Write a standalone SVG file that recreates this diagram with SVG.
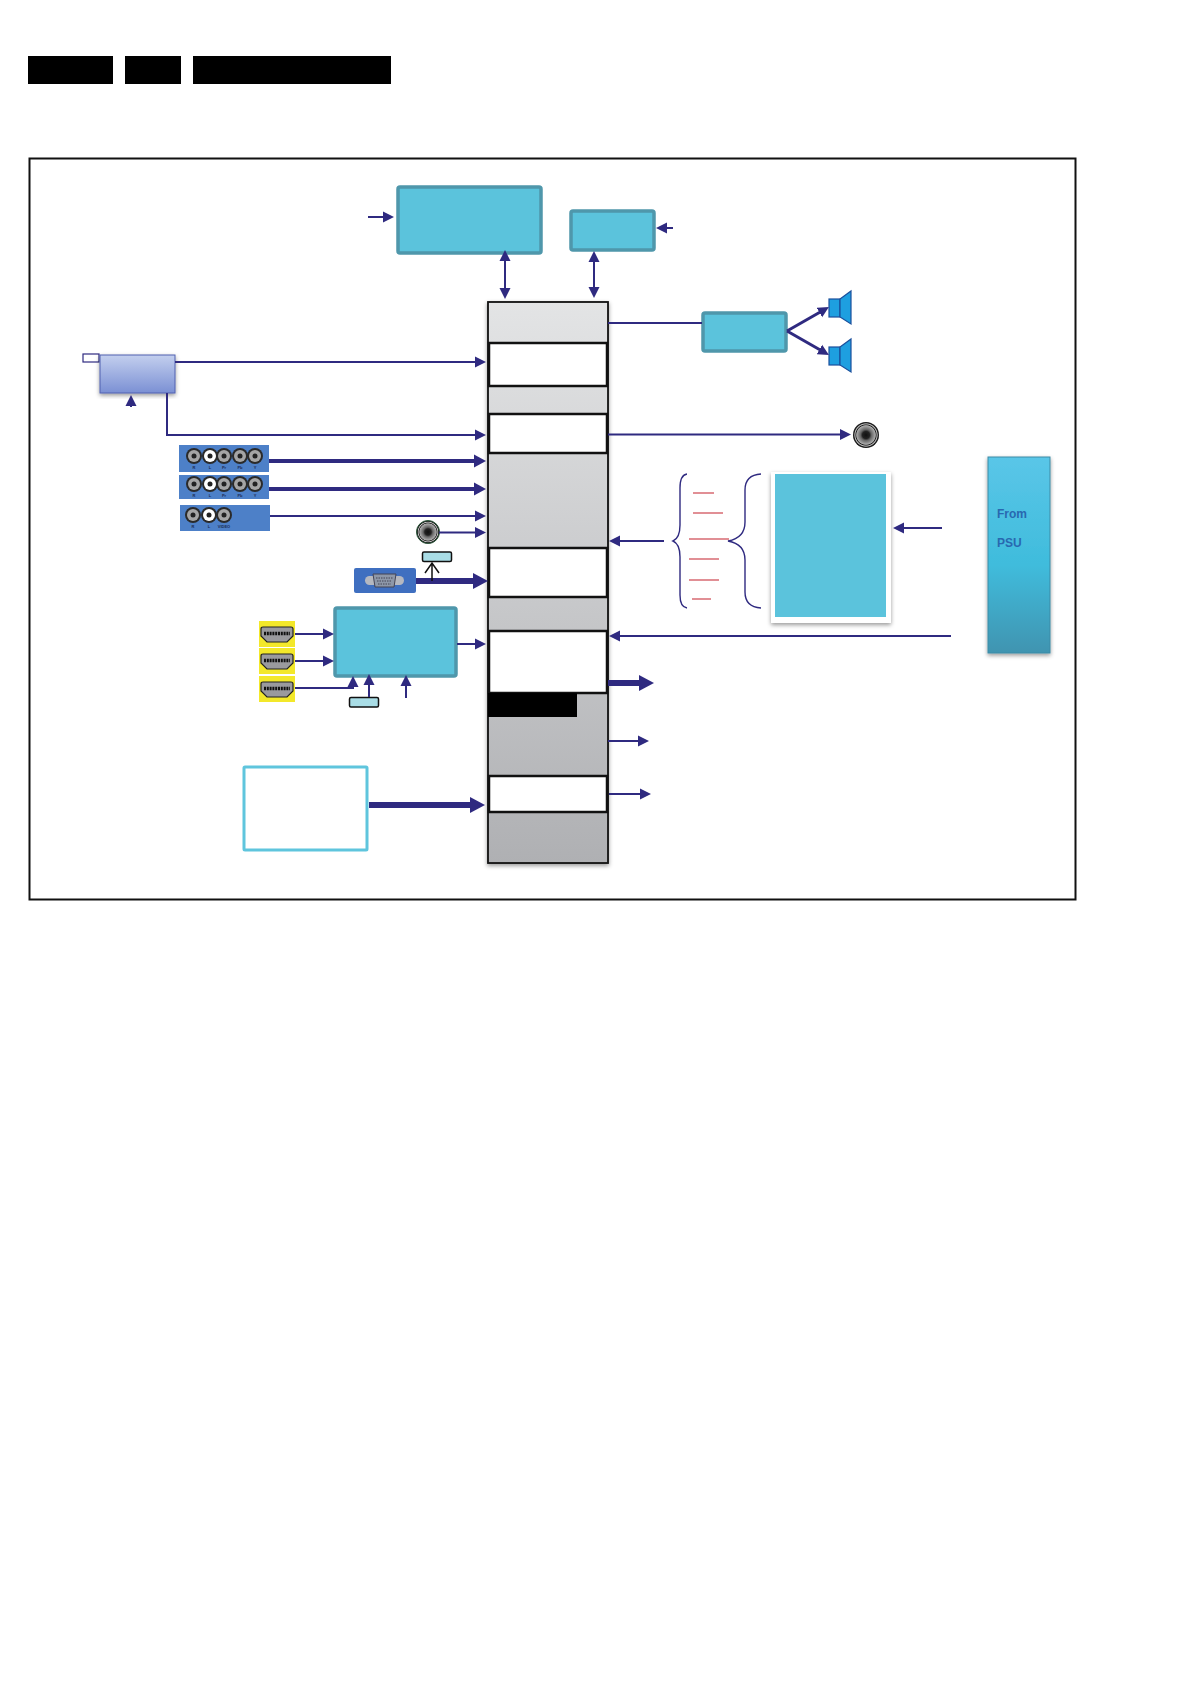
<svg xmlns="http://www.w3.org/2000/svg" width="1191" height="1684" viewBox="0 0 1191 1684">
<style>
.w{fill:none;stroke:#2f2a80;stroke-width:2}
.m{stroke-width:3}
.t{stroke-width:4}
.b{stroke-width:6}
.a{fill:#2f2a80;stroke:none}
.ic{fill:#5bc3dc;stroke:#4f97ab;stroke-width:3.5}
.wb{fill:#fff;stroke:#111;stroke-width:2.500}
.lb{fill:#a9dde6;stroke:#111;stroke-width:1.500}
.red{stroke:#c4202c;stroke-width:1.200;fill:none}
.br{fill:none;stroke:#2f2a80;stroke-width:1.400}
.rl{font:bold 4px "Liberation Sans",sans-serif;fill:#1c2c55;text-anchor:middle}
.psu{font:bold 12px "Liberation Sans",sans-serif;fill:#2868b0}
.sp{fill:#1e9fe0;stroke:#1a4f9c;stroke-width:1.200}
</style>
<defs>
<marker id="m" markerUnits="userSpaceOnUse" markerWidth="13" markerHeight="13" refX="3" refY="6.500" orient="auto-start-reverse"><path class="a" d="M0 1L11 6.500L0 12Z"/></marker>
<marker id="mt" markerUnits="userSpaceOnUse" markerWidth="14" markerHeight="15" refX="3" refY="7.500" orient="auto"><path class="a" d="M0 1L12 7.500L0 14Z"/></marker>
<marker id="mb" markerUnits="userSpaceOnUse" markerWidth="17" markerHeight="18" refX="3" refY="9" orient="auto"><path class="a" d="M0 1L15 9L0 17Z"/></marker>
<linearGradient id="col" x1="0" y1="0" x2="0" y2="1"><stop offset="0" stop-color="#e3e4e5"/><stop offset="1" stop-color="#afb0b3"/></linearGradient>
<linearGradient id="tun" x1="0" y1="0" x2="0" y2="1"><stop offset="0" stop-color="#c3cfee"/><stop offset="1" stop-color="#7b90d4"/></linearGradient>
<linearGradient id="psug" x1="0" y1="0" x2="0" y2="1"><stop offset="0" stop-color="#5ac6e8"/><stop offset="0.55" stop-color="#3fbcdc"/><stop offset="1" stop-color="#3f94b0"/></linearGradient>
<radialGradient id="jk"><stop offset="0" stop-color="#111"/><stop offset="0.28" stop-color="#222"/><stop offset="0.42" stop-color="#666"/><stop offset="0.72" stop-color="#aaa"/><stop offset="0.78" stop-color="#222"/><stop offset="0.86" stop-color="#ccc"/><stop offset="0.92" stop-color="#222"/><stop offset="1" stop-color="#111"/></radialGradient>
<filter id="sh" x="-10%" y="-10%" width="125%" height="125%"><feDropShadow dx="0" dy="2" stdDeviation="2" flood-color="#000" flood-opacity="0.4"/></filter>
<g id="rca"><circle r="8" fill="#2a2a2a"/><circle r="6" fill="#a5a5a5"/><circle r="2.500" fill="#222"/></g>
<g id="rcaw"><circle r="8" fill="#2a2a2a"/><circle r="6" fill="#fff"/><circle r="2.500" fill="#222"/></g>
<g id="hdmi"><rect x="-18" y="-13" width="36" height="26" fill="#f3e82a"/><path d="M-14-7H14Q16-7 16-5V2L10 8H-10L-16 2V-5Q-16-7-14-7Z" fill="#9a9a9e" stroke="#222" stroke-width="1.200"/><path d="M-13-.5H13" stroke="#111" stroke-width="3.500" stroke-dasharray="2 .8"/></g>
<g id="spk"><rect x="829" y="0" width="11" height="18" class="sp"/><path class="sp" d="M840 0L851-8V25L840 18Z"/></g>
</defs>

<g id="header"><rect x="28" y="56" width="85" height="28"/><rect x="125" y="56" width="56" height="28"/><rect x="193" y="56" width="198" height="28"/></g>
<rect id="frame" x="29.500" y="158.500" width="1046" height="741" fill="none" stroke="#111" stroke-width="2"/>

<g id="chip">
<rect x="488" y="302" width="120" height="561" fill="url(#col)" stroke="#111" stroke-width="1.800" filter="url(#sh)"/>
<rect class="wb" x="489" y="343" width="118" height="43"/>
<rect class="wb" x="489" y="414" width="118" height="39"/>
<rect class="wb" x="489" y="548" width="118" height="49"/>
<rect class="wb" x="489" y="631" width="118" height="62"/>
<rect x="488" y="693" width="89" height="24" fill="#000"/>
<rect class="wb" x="489" y="776" width="118" height="36"/>
</g>
<g id="mem1"><rect class="ic" x="398" y="187" width="143" height="66" rx="2"/></g>
<g id="mem2"><rect class="ic" x="571" y="211" width="83" height="39" rx="2"/></g>
<g id="amp"><rect class="ic" x="703" y="313" width="83" height="38" rx="2"/></g>
<g id="speakers"><use href="#spk" y="299"/><use href="#spk" y="347"/></g>
<g id="audio-jack"><circle cx="866" cy="435" r="13" fill="url(#jk)"/></g>
<g id="panel"><rect x="771" y="472" width="120" height="151" fill="#fff" filter="url(#sh)"/><rect x="775" y="474" width="111" height="143" fill="#5bc3dc"/></g>
<g id="psu"><rect x="988" y="457" width="62" height="196" fill="url(#psug)" stroke="#3c8ba6" filter="url(#sh)"/><text class="psu" x="997" y="518">From</text><text class="psu" x="997" y="547">PSU</text></g>
<g id="tuner"><rect x="83" y="354" width="16" height="8" fill="#fff" stroke="#2f2a80" stroke-width="1.200"/><rect x="100" y="355" width="75" height="38" fill="url(#tun)" stroke="#5060b0" filter="url(#sh)"/></g>
<g id="rca1"><rect x="179" y="445" width="90" height="27" fill="#4d80c8"/><use href="#rca" x="194" y="456"/><use href="#rcaw" x="210" y="456"/><use href="#rca" x="224" y="456"/><use href="#rca" x="240" y="456"/><use href="#rca" x="255" y="456"/><text class="rl" x="194" y="468.500">R</text><text class="rl" x="210" y="468.500">L</text><text class="rl" x="224" y="468.500">Pr</text><text class="rl" x="240" y="468.500">Pb</text><text class="rl" x="255" y="468.500">Y</text></g>
<g id="rca2"><rect x="179" y="475" width="90" height="24" fill="#4d80c8"/><use href="#rca" x="194" y="484"/><use href="#rcaw" x="210" y="484"/><use href="#rca" x="224" y="484"/><use href="#rca" x="240" y="484"/><use href="#rca" x="255" y="484"/><text class="rl" x="194" y="496.500">R</text><text class="rl" x="210" y="496.500">L</text><text class="rl" x="224" y="496.500">Pr</text><text class="rl" x="240" y="496.500">Pb</text><text class="rl" x="255" y="496.500">Y</text></g>
<g id="rca3"><rect x="180" y="505" width="90" height="26" fill="#4d80c8"/><use href="#rca" x="193" y="515"/><use href="#rcaw" x="209" y="515"/><use href="#rca" x="224" y="515"/><text class="rl" x="193" y="528">R</text><text class="rl" x="209" y="528">L</text><text class="rl" x="224" y="528">VIDEO</text></g>
<g id="jack2"><circle cx="428" cy="532" r="11.500" fill="url(#jk)" stroke="#2c5a3c"/></g>
<g id="lb1"><rect class="lb" x="422.500" y="552" width="29" height="9.500" rx="1.500"/></g>
<g id="vga"><rect x="354" y="568" width="62" height="25" rx="2" fill="#3f6fc0"/><rect x="365" y="576" width="39" height="9" rx="4.500" fill="#b5b8c0"/><path d="M373 574H396L394 587H375Z" fill="#8d97a8" stroke="#445"/><path d="M376 578H393M377 581H392M378 584H391" stroke="#445" stroke-width="1" stroke-dasharray="1.500 1"/></g>
<g id="hdmi-switch"><rect class="ic" x="335" y="608" width="121" height="68" rx="2"/></g>
<g id="hdmi1"><use href="#hdmi" x="277" y="634"/></g>
<g id="hdmi2"><use href="#hdmi" x="277" y="661"/></g>
<g id="hdmi3"><use href="#hdmi" x="277" y="689"/></g>
<g id="lb2"><rect class="lb" x="349.500" y="697.500" width="29" height="9.500" rx="1.500"/></g>
<g id="wifi"><rect x="244" y="767" width="123" height="83" rx="1" fill="#fff" stroke="#5fc5dd" stroke-width="3"/></g>
<g id="braces">
<path class="br" d="M687 474Q680 475 680 488V525Q680 538 673 541Q680 544 680 557V595Q680 607 687 608"/>
<path class="br" d="M761 474Q745 475 745 490V522Q745 538 728 541Q745 544 745 560V592Q745 607 761 608"/>
<path class="red" d="M693 493H714M693 513H723M689 539H729M689 559H719M689 580H719M692 599H711"/>
</g>
<g id="connectors">
<path class="w" d="M368 217H386" marker-end="url(#m)"/>
<path class="w" d="M673 228H664" marker-end="url(#m)"/>
<path class="w" d="M505 258V291" marker-start="url(#m)" marker-end="url(#m)"/>
<path class="w" d="M594 259V290" marker-start="url(#m)" marker-end="url(#m)"/>
<path class="w" d="M608 323H702"/>
<path class="w m" d="M787 331L822 311" marker-end="url(#m)"/>
<path class="w m" d="M787 331L822 351" marker-end="url(#m)"/>
<path class="w" d="M175 362H478" marker-end="url(#m)"/>
<path class="w" d="M167 393V435H478" marker-end="url(#m)"/>
<path class="w" d="M131 407V403" marker-end="url(#m)"/>
<path class="w" d="M608 434.500H843" marker-end="url(#m)"/>
<path class="w t" d="M269 461H477" marker-end="url(#mt)"/>
<path class="w t" d="M269 489H477" marker-end="url(#mt)"/>
<path class="w" d="M270 516H478" marker-end="url(#m)"/>
<path class="w" d="M439 532.500H478" marker-end="url(#m)"/>
<path class="w b" d="M416 581H476" marker-end="url(#mb)"/>
<path d="M432 581V563M425 573L432 563L439 573" fill="none" stroke="#111" stroke-width="1.500"/>
<path class="w" d="M295 634H326" marker-end="url(#m)"/>
<path class="w" d="M295 661H326" marker-end="url(#m)"/>
<path class="w" d="M295 688H353V684" marker-end="url(#m)"/>
<path class="w" d="M369 697V682" marker-end="url(#m)"/>
<path class="w" d="M406 698V683" marker-end="url(#m)"/>
<path class="w" d="M457 644H478" marker-end="url(#m)"/>
<path class="w b" d="M369 805H473" marker-end="url(#mb)"/>
<path class="w" d="M664 541H617" marker-end="url(#m)"/>
<path class="w" d="M942 528H901" marker-end="url(#m)"/>
<path class="w" d="M951 636H617" marker-end="url(#m)"/>
<path class="w b" d="M608 683H642" marker-end="url(#mb)"/>
<path class="w" d="M608 741H641" marker-end="url(#m)"/>
<path class="w" d="M609 794H643" marker-end="url(#m)"/>
</g>
</svg>
